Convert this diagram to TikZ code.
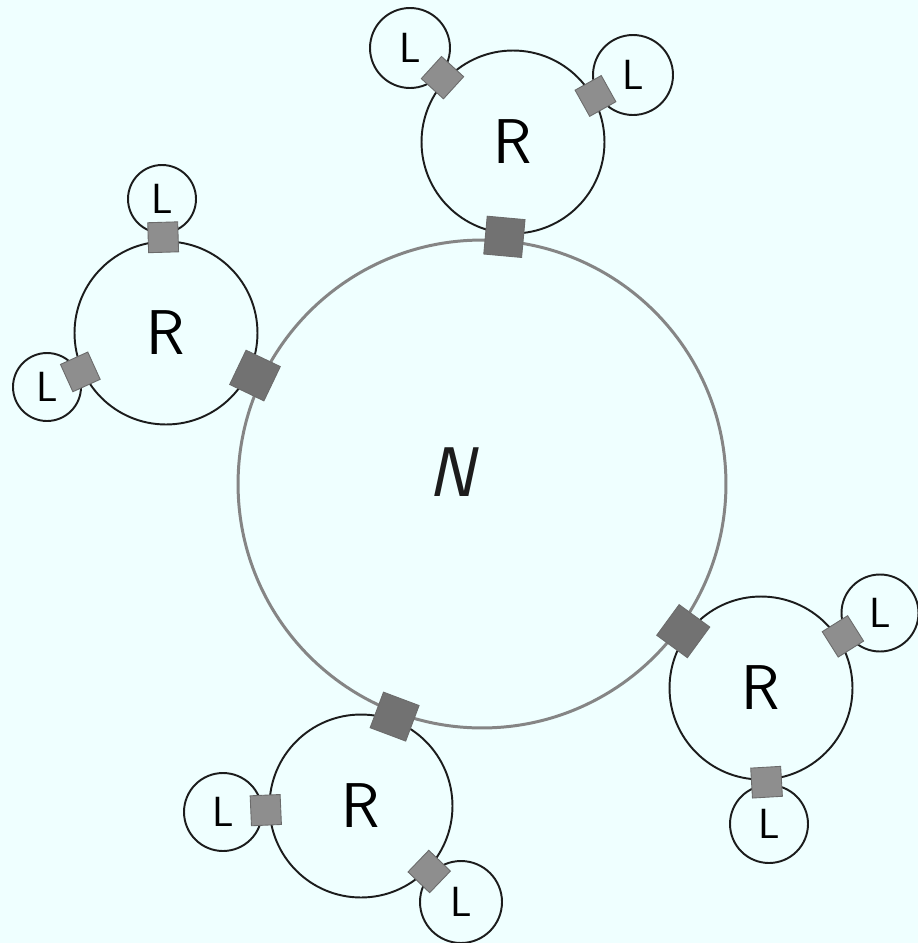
\documentclass[tikz,border=0pt]{standalone}
\usepackage{fontspec}
\usepackage{tikz}
\usetikzlibrary{calc}
\definecolor{paper}{HTML}{EFFFFF}
\definecolor{pencil}{HTML}{1C1C1C}
\definecolor{grain}{HTML}{858585}
\definecolor{blob}{HTML}{8E8E8E}
\tikzset{
  nuc/.style={circle, draw=grain, line width=1.7pt, minimum size=9.76cm, inner sep=0pt},
  rc/.style={circle, draw=pencil, line width=1.1pt, minimum size=3.66cm, inner sep=0pt, font=\sffamily\fontsize{36}{36}\selectfont},
  lc/.style={circle, draw=pencil, line width=1.1pt, inner sep=0pt, font=\sffamily\fontsize{24}{24}\selectfont},
  lnk/.style={draw=pencil!65, fill=blob, line width=.5pt, minimum size=.6cm, inner sep=0pt},
  lnkb/.style={lnk, minimum size=.76cm, fill=blob!80!black},
  lbl/.style={font=\sffamily\itshape\fontsize{40}{40}\selectfont, text=pencil},
}
\begin{document}
\begin{tikzpicture}[x=0.02cm, y=-0.02cm]
  \path[fill=paper] (0,0) rectangle (918,943);
  \useasboundingbox (0,0) rectangle (918,943);
  % nucleus and the four R rings
  \node[nuc] (N) at (482,484) {};
  \node[lbl] (Nlbl) at (452,472) {N};
  \node[rc] (Rt) at (513,142) {R};
  \node[rc] (Rl) at (166,333) {R};
  \node[rc] (Rr) at (761,688) {R};
  \node[rc] (Rb) at (361,806) {R};
  \foreach \r in {Rt,Rl,Rr,Rb}{
    \path (\r) -- node[lnkb, sloped] {} (N);
  }
  % L rings hung on each R
  \foreach \nm/\x/\y/\d/\r in {Ltl/410/48/1.6/Rt, Ltr/633/75/1.6/Rt,
      Llt/162/199/1.36/Rl, Lll/47/387/1.36/Rl,
      Lrt/880/613/1.54/Rr, Lrb/769/824/1.56/Rr,
      Lbl/223/812/1.56/Rb, Lbr/461/902/1.64/Rb}{
    \node[lc, minimum size=\d cm] (\nm) at (\x,\y) {L};
    \path (\nm) -- node[lnk, sloped] {} (\r);
  }
\end{tikzpicture}
\end{document}
